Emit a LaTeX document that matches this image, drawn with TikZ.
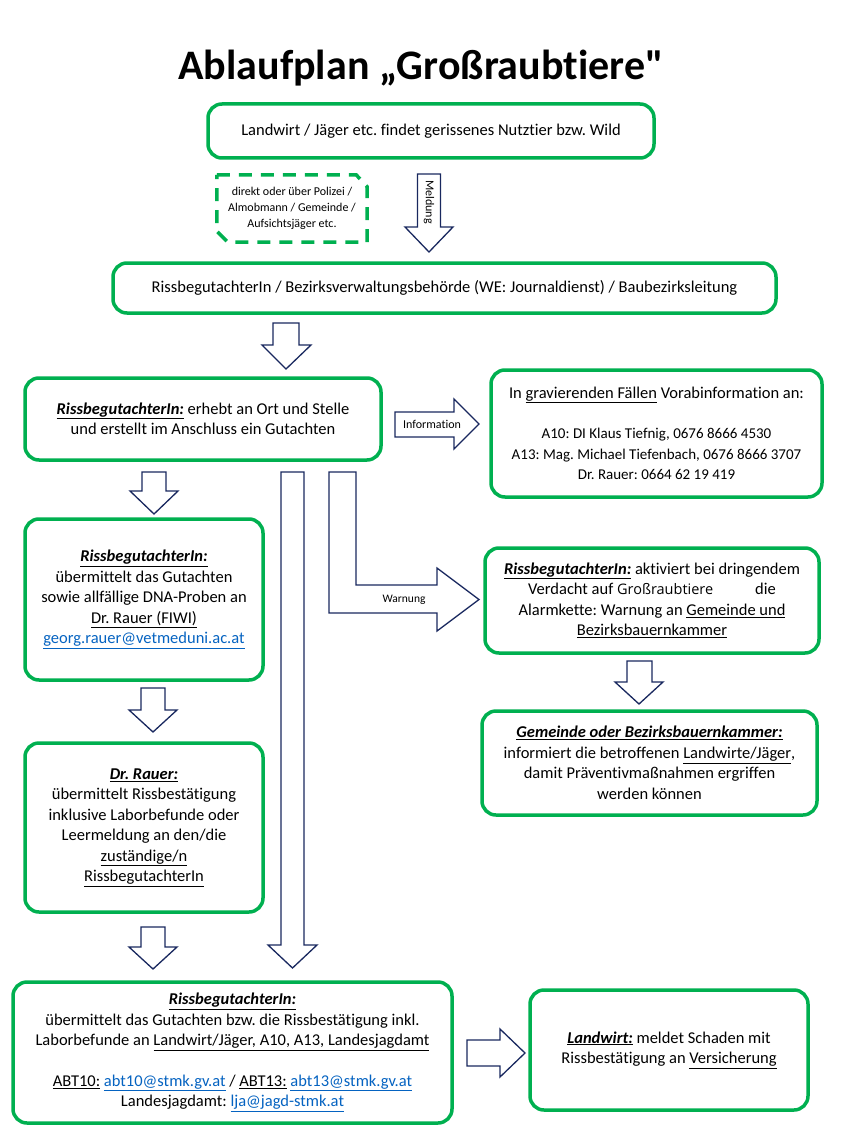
\documentclass[tikz,border=0pt]{standalone}
\usepackage{fontspec}
\setmainfont{Carlito}[Ligatures={TeX,CommonOff}]
\newfontfamily\segoefont{Open Sans}[Ligatures=CommonOff]
\frenchspacing
\definecolor{planGreen}{RGB}{0,176,80}
\definecolor{arrowNavy}{RGB}{25,40,95}
\definecolor{linkBlue}{RGB}{5,99,193}
\newcommand{\role}[1]{\underline{\textbf{\textit{#1}}}}
\newcommand{\lnk}[1]{\textcolor{linkBlue}{\underline{#1}}}
\tikzset{
  greenbox/.style={draw=planGreen, line width=3.5pt, rounded corners=14pt, align=center, inner sep=0pt, font=\fontsize{16.5}{20.5}\selectfont},
  viadash/.style={draw=planGreen, line width=3.5pt, dash pattern=on 13pt off 9pt},
  blockarrow/.style={draw=arrowNavy, line width=1.3pt, fill=white, line join=miter},
  arrowlabel/.style={font=\fontsize{11.5}{13}\selectfont, inner sep=0pt},
}
\begin{document}
\begin{tikzpicture}[x=1pt,y=-1pt]
\fill[white] (0,0) rectangle (850,1134);
\useasboundingbox (0,0) rectangle (850,1134);
% title
\node (title) at (421,68) {\fontsize{42}{48}\selectfont\bfseries Ablaufplan „Großraubtiere\XeTeXglyph\XeTeXcharglyph"22};
% top row
\node[greenbox, minimum width=446pt, minimum height=54pt] (finder) at (431,131) {Landwirt / Jäger etc. findet gerissenes Nutztier bzw. Wild};
\node[font=\fontsize{12}{16}\selectfont, align=center, minimum width=150pt, minimum height=67pt, inner sep=0pt] (via) at (292,208.5) {direkt oder über Polizei /\\ Almobmann / Gemeinde /\\ Aufsichtsjäger etc.};
\draw[viadash] (via.north west) -- ([xshift=-11pt]via.north east) -- ([yshift=-12pt]via.north east) -- (via.south east) -- ([xshift=11pt]via.south west) -- ([yshift=11pt]via.south west) -- cycle;
\draw[blockarrow] (417.5,174) -- (440.5,174) -- (440.5,227) -- (453,227) -- (429,252) -- (405,227) -- (417.5,227) -- cycle;
\node[arrowlabel, rotate=-90, font=\fontsize{12}{13}\selectfont] (meldung) at (429,202) {Meldung};
\node[greenbox, minimum width=663pt, minimum height=50pt] (authority) at (444.5,288) {RissbegutachterIn / Bezirksverwaltungsbehörde (WE: Journaldienst) / Baubezirksleitung};
\draw[blockarrow] (273,323) -- (299,323) -- (299,345) -- (311,345) -- (286,369) -- (262,345) -- (273,345) -- cycle;
% survey and information
\node[greenbox, minimum width=356pt, minimum height=82pt] (survey) at (203,419) {\role{RissbegutachterIn:} erhebt an Ort und Stelle\\ und erstellt im Anschluss ein Gutachten};
\draw[blockarrow] (395,412) -- (454,412) -- (454,399) -- (479,424) -- (454,449) -- (454,437) -- (395,437) -- cycle;
\node[arrowlabel, font=\fontsize{12}{13}\selectfont] (infolabel) at (432,424) {Information};
\node[greenbox, minimum width=331pt, minimum height=127pt] (preinfo) at (656.5,433.5) {In \underline{gravierenden Fällen} Vorabinformation an:\\[20pt]
  {\fontsize{15}{20}\selectfont A10: DI Klaus Tiefnig, 0676 8666 4530}\\
  {\fontsize{15}{20}\selectfont A13: Mag. Michael Tiefenbach, 0676 8666 3707}\\
  {\fontsize{15}{20}\selectfont Dr. Rauer: 0664 62 19 419}};
% arrows leaving the survey box
\draw[blockarrow] (142,472) -- (166,472) -- (166,491) -- (178,491) -- (154,514) -- (130,491) -- (142,491) -- cycle;
\draw[blockarrow] (281,472) -- (304,472) -- (304,945) -- (317,945) -- (292.5,968) -- (268,945) -- (281,945) -- cycle;
\draw[blockarrow] (329,472) -- (356,472) -- (356,585) -- (437,585) -- (437,568) -- (479,599.5) -- (437,631) -- (437,613) -- (329,613) -- cycle;
\node[arrowlabel] (warnlabel) at (404,600) {Warnung};
% left column
\node[greenbox, minimum width=238pt, minimum height=161pt] (dna) at (144,599.5) {\role{RissbegutachterIn:}\\ übermittelt das Gutachten\\ sowie allfällige DNA-Proben an\\ \underline{Dr. Rauer (FIWI)}\\ \lnk{georg.rauer@vetmeduni.ac.at}};
\draw[blockarrow] (141,688) -- (165,688) -- (165,710) -- (177,710) -- (153,732) -- (129,710) -- (141,710) -- cycle;
\node[greenbox, minimum width=238pt, minimum height=169pt] (rauer) at (144,827.5) {\role{Dr. Rauer:}\\ übermittelt Rissbestätigung\\ inklusive Laborbefunde oder\\ Leermeldung an den/die\\ \underline{zuständige/n}\\ \underline{RissbegutachterIn}};
\draw[blockarrow] (141,927) -- (165,927) -- (165,947) -- (177,947) -- (153,969) -- (129,947) -- (141,947) -- cycle;
% right column
\node[greenbox, minimum width=334pt, minimum height=105pt] (alarm) at (652,600.5) {\role{RissbegutachterIn:} aktiviert bei dringendem\\ Verdacht auf {\segoefont\fontsize{14.5}{20}\selectfont Großraubtiere}\hspace{42pt}die\\ Alarmkette: Warnung an \underline{Gemeinde und}\\ \underline{Bezirksbauernkammer}};
\draw[blockarrow] (627,661) -- (652,661) -- (652,682) -- (663,682) -- (639,704) -- (615,682) -- (627,682) -- cycle;
\node[greenbox, minimum width=335pt, minimum height=104pt] (community) at (649.5,763) {\role{Gemeinde oder Bezirksbauernkammer:}\\ informiert die betroffenen \underline{Landwirte/Jäger},\\ damit Präventivmaßnahmen ergriffen\\ werden können};
% bottom row
\node[greenbox, minimum width=439pt, minimum height=141pt] (report) at (232.5,1052.5) {\role{RissbegutachterIn:}\\ übermittelt das Gutachten bzw. die Rissbestätigung inkl.\\ Laborbefunde an \underline{Landwirt/Jäger, A10, A13, Landesjagdamt}\\[20pt]
  \underline{ABT10:} \lnk{abt10@stmk.gv.at} / \underline{ABT13:} \lnk{abt13@stmk.gv.at}\\ Landesjagdamt: \lnk{lja@jagd-stmk.at}};
\draw[blockarrow] (467,1040) -- (500,1040) -- (500,1029) -- (525,1053) -- (500,1077) -- (500,1066) -- (467,1066) -- cycle;
\node[greenbox, minimum width=278pt, minimum height=120pt] (insurance) at (669,1050) {\role{Landwirt:} meldet Schaden mit\\ Rissbestätigung an \underline{Versicherung}};
\end{tikzpicture}
\end{document}
